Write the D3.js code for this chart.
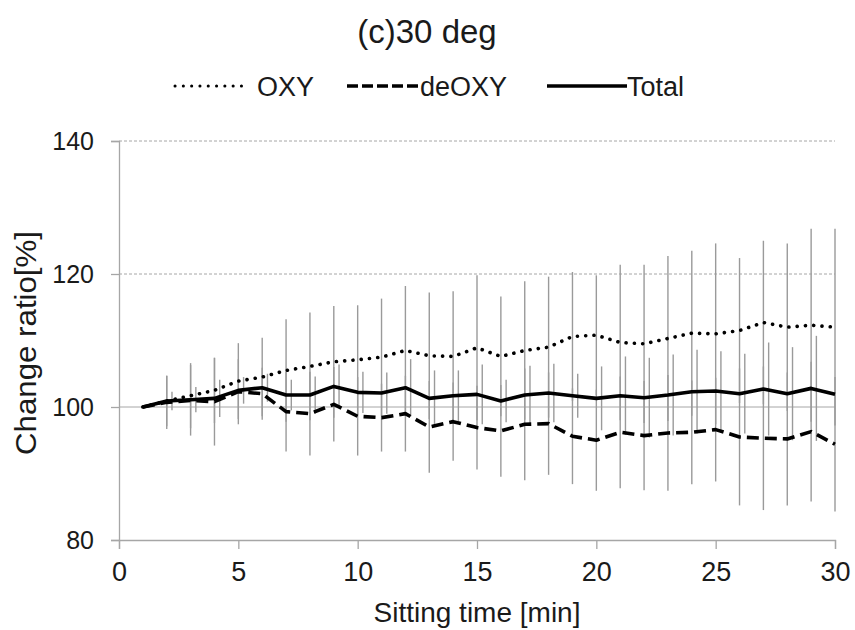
<!DOCTYPE html>
<html>
<head>
<meta charset="utf-8">
<script src="https://cdn.jsdelivr.net/npm/d3@7"></script>
<style>
  html, body { margin: 0; padding: 0; background: #fff; }
  svg { display: block; }
  text { font-family: "Liberation Sans", Arial, sans-serif; fill: #1a1a1a; }
</style>
</head>
<body>
<svg id="chart" width="855" height="630"></svg>
<script>
// Sitting time (min) at which each value was sampled
const minutes = [1, 2, 3, 4, 5, 6, 7, 8, 9, 10, 11, 12, 13, 14, 15,
                 16, 17, 18, 19, 20, 21, 22, 23, 24, 25, 26, 27, 28, 29, 30];

// Mean change ratio [%] and standard deviation per series
const oxy = [100, 100.9, 101.7, 102.5, 103.9, 104.5, 105.5, 106.1, 106.8, 107.1,
             107.5, 108.5, 107.7, 107.6, 108.9, 107.6, 108.5, 109.0, 110.6, 110.8,
             109.7, 109.5, 110.3, 111.1, 111.0, 111.5, 112.7, 112.0, 112.3, 112.0];
const oxySD = [0, 3.8, 4.9, 4.9, 5.7, 5.9, 7.7, 8.1, 8.4, 8.2,
               8.8, 9.7, 9.5, 9.8, 10.9, 9.0, 10.4, 10.6, 9.7, 9.0,
               11.7, 11.9, 12.4, 12.4, 13.6, 10.9, 12.3, 12.6, 14.5, 14.8];

const deoxy = [100, 100.7, 101.0, 100.8, 102.3, 102.0, 99.3, 99.0, 100.4, 98.6,
               98.4, 99.0, 97.0, 97.8, 96.9, 96.4, 97.4, 97.5, 95.6, 95.0,
               96.2, 95.7, 96.1, 96.2, 96.6, 95.5, 95.3, 95.2, 96.3, 94.4];
const deoxySD = [0, 4.0, 5.3, 6.6, 4.9, 3.9, 6.0, 6.3, 5.6, 5.9,
                 5.1, 5.7, 6.9, 5.9, 6.3, 6.9, 8.4, 7.7, 7.2, 7.6,
                 8.4, 8.2, 8.7, 7.8, 7.8, 10.3, 10.8, 10.0, 10.5, 10.1];

const total = [100, 100.9, 101.1, 101.3, 102.5, 102.9, 101.8, 101.8, 103.1, 102.2,
               102.1, 102.9, 101.3, 101.7, 101.9, 100.9, 101.8, 102.1, 101.7, 101.3,
               101.7, 101.4, 101.8, 102.3, 102.4, 102.0, 102.7, 102.0, 102.8, 101.9];
const totalSD = [0, 1.4, 1.9, 2.8, 2.0, 2.1, 2.3, 2.8, 3.3, 3.1,
                 3.1, 4.3, 4.2, 3.8, 4.5, 3.2, 4.4, 4.4, 3.3, 4.8,
                 5.9, 6.0, 6.1, 6.3, 6.0, 6.0, 7.0, 7.0, 7.9, 8.0];

const xTicks = [0, 5, 10, 15, 20, 25, 30];
const yTicks = [80, 100, 120, 140];
const seriesNames = ["OXY", "deOXY", "Total"];

const svg = d3.select("#chart");
const font = "'Liberation Sans', Arial, sans-serif";

const x = d3.scaleLinear().domain([0, 30]).range([119, 835]);
const y = d3.scaleLinear().domain([80, 140]).range([540, 141]);

const gridColor = "#a6a6a6";

// horizontal reference lines (100 solid, others dashed)
svg.append("g").selectAll("line")
  .data(yTicks.filter(v => v > 80))
  .join("line")
  .attr("x1", x(0)).attr("x2", x(30))
  .attr("y1", d => y(d)).attr("y2", d => y(d))
  .attr("stroke", gridColor)
  .attr("stroke-width", 1)
  .attr("stroke-dasharray", d => d === 100 ? null : "3,2");

// axes
const yAxis = d3.axisLeft(y).tickValues(yTicks).tickSize(8).tickPadding(17);
const xAxis = d3.axisBottom(x).tickValues(xTicks).tickSize(9).tickPadding(13);

const gy = svg.append("g").attr("transform", `translate(${x(0)},0)`).call(yAxis);
const gx = svg.append("g").attr("transform", `translate(0,${y(80)})`).call(xAxis);
[gx, gy].forEach(g => {
  g.select(".domain").attr("stroke", gridColor).attr("stroke-width", 1.3);
  g.selectAll(".tick line").attr("stroke", gridColor).attr("stroke-width", 1.3);
  g.selectAll(".tick text").attr("fill", "#1a1a1a").style("font-family", font);
});
gy.selectAll(".tick text").attr("font-size", 25);
gx.selectAll(".tick text").attr("font-size", 27).attr("dy", "0.71em");

// error bars (Total bars nudged right so they stay readable)
svg.append("clipPath").attr("id", "plot-clip")
  .append("rect").attr("x", x(0)).attr("y", y(140) - 20)
  .attr("width", x(30) - x(0) + 1).attr("height", y(80) - y(140) + 20);

const errLayer = svg.append("g").attr("clip-path", "url(#plot-clip)");
const barSets = [
  { mean: oxy, sd: oxySD, dx: 0 },
  { mean: deoxy, sd: deoxySD, dx: 0 },
  { mean: total, sd: totalSD, dx: 0.22 }
];
barSets.forEach(s => {
  errLayer.append("g").selectAll("line")
    .data(minutes.map((m, i) => ({ m: m + s.dx, v: s.mean[i], e: s.sd[i] })))
    .join("line")
    .attr("x1", d => x(d.m)).attr("x2", d => x(d.m))
    .attr("y1", d => y(d.v - d.e)).attr("y2", d => y(d.v + d.e))
    .attr("stroke", "#9a9a9a")
    .attr("stroke-width", 1.4);
});

// series lines
const styles = {
  OXY:   { values: oxy,   dash: "0.1,8.2", cap: "round", width: 3.6 },
  deOXY: { values: deoxy, dash: "12,6",    cap: "butt",  width: 3.6 },
  Total: { values: total, dash: null,      cap: "butt",  width: 3.6 }
};
const line = d3.line().x(d => x(d[0])).y(d => y(d[1]));
seriesNames.forEach(name => {
  const st = styles[name];
  svg.append("path")
    .datum(minutes.map((m, i) => [m, st.values[i]]))
    .attr("d", line)
    .attr("fill", "none")
    .attr("stroke", "#000")
    .attr("stroke-width", st.width)
    .attr("stroke-linecap", st.cap)
    .attr("stroke-linejoin", "round")
    .attr("stroke-dasharray", st.dash);
});

// title
svg.append("text")
  .attr("x", 427).attr("y", 43)
  .attr("text-anchor", "middle")
  .attr("font-size", 33)
  .text("(c)30 deg");

// legend
const legendItems = [
  { name: "OXY",   x1: 175, x2: 243, tx: 257 },
  { name: "deOXY", x1: 347, x2: 420, tx: 420 },
  { name: "Total", x1: 547, x2: 627, tx: 627 }
];
const lg = svg.append("g");
legendItems.forEach(it => {
  const st = styles[it.name];
  lg.append("line")
    .attr("x1", it.x1).attr("x2", it.x2)
    .attr("y1", 86).attr("y2", 86)
    .attr("stroke", "#000")
    .attr("stroke-width", it.name === "OXY" ? 3 : st.width)
    .attr("stroke-linecap", st.cap)
    .attr("stroke-dasharray", it.name === "deOXY" ? "11,4" : st.dash);
  lg.append("text")
    .attr("x", it.tx).attr("y", 96)
    .attr("font-size", 27)
    .text(it.name);
});

// axis titles
svg.append("text")
  .attr("x", 477).attr("y", 622)
  .attr("text-anchor", "middle")
  .attr("font-size", 28)
  .text("Sitting time [min]");

svg.append("text")
  .attr("transform", `translate(36,343) rotate(-90)`)
  .attr("text-anchor", "middle")
  .attr("font-size", 30)
  .attr("textLength", 224)
  .attr("lengthAdjust", "spacingAndGlyphs")
  .text("Change ratio[%]");
</script>
</body>
</html>
